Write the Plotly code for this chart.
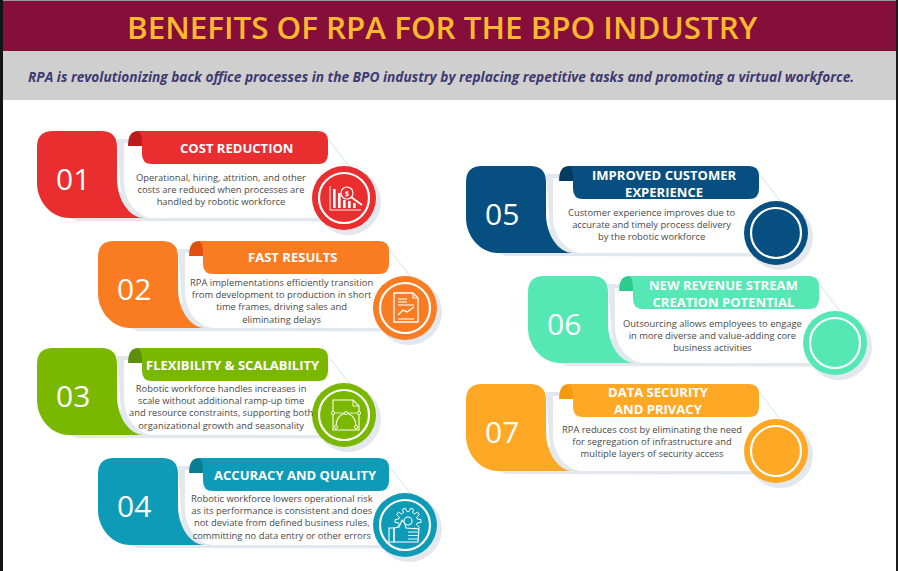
import math
import plotly.graph_objects as go

# card contents
NUMBERS = ["01", "02", "03", "04", "05", "06", "07"]
HEADINGS = [
    ["COST REDUCTION"],
    ["FAST RESULTS"],
    ["FLEXIBILITY & SCALABILITY"],
    ["ACCURACY AND QUALITY"],
    ["IMPROVED CUSTOMER", "EXPERIENCE"],
    ["NEW REVENUE STREAM", "CREATION POTENTIAL"],
    ["DATA SECURITY", "AND PRIVACY"],
]
BODIES = [
    ["Operational, hiring, attrition, and other", "costs are reduced when processes are", "handled by robotic workforce"],
    ["RPA implementations efficiently transition", "from development to production in short", "time frames, driving sales and", "eliminating delays"],
    ["Robotic workforce handles increases in", "scale without additional ramp-up time", "and resource constraints, supporting both", "organizational growth and seasonality"],
    ["Robotic workforce lowers operational risk", "as its performance is consistent and does", "not deviate from defined business rules,", "committing no data entry or other errors"],
    ["Customer experience improves due to", "accurate and timely process delivery", "by the robotic workforce"],
    ["Outsourcing allows employees to engage", "in more diverse and value-adding core", "business activities"],
    ["RPA reduces cost by eliminating the need", "for segregation of infrastructure and", "multiple layers of security access"],
]
TITLE = "BENEFITS OF RPA FOR THE BPO INDUSTRY"
SUBTITLE = "RPA is revolutionizing back office processes in the BPO industry by replacing repetitive tasks and promoting a virtual workforce."

# card colours
MAIN = ["#ea2d2e", "#f97b22", "#7ab800", "#0e9bb8", "#064f80", "#55e8b4", "#ffa826"]
DARK = ["#bb1c1c", "#e04e10", "#5e8f0c", "#087e92", "#043c61", "#2ecb8f", "#f59a10"]
SHADOW = "#e2e8ee"

# where each card sits
CARD_X = [37, 98, 37, 98, 466, 528, 466]
CARD_Y = [131, 241, 348, 458, 166, 276, 384]
EXTRA = [0, 0, 0, 0, 2, 0, 2]  # right column cards are a touch wider
HEAD_X = [199, 194, 196, 197, 198, 195, 192]
HEAD_Y = [17, 16, 17, 17, 17, 17.6, 16.8]
BODY_X = [184, 183, 184, 184, 186, 184, 186]
BODY_Y = [58.4, 59.8, 58.8, 58.8, 58.6, 59.4, 57.8]

shapes = []
annotations = []


def add_path(path, fill=None, line=None, width=0):
    shapes.append(dict(type="path", path=path, xref="x", yref="y", layer="below",
                       fillcolor=fill if fill else "rgba(0,0,0,0)",
                       line=dict(color=line if line else "rgba(0,0,0,0)", width=width)))


def add_circle(cx, cy, r, fill=None, line=None, width=0):
    shapes.append(dict(type="circle", xref="x", yref="y", layer="below",
                       x0=cx - r, x1=cx + r, y0=cy - r, y1=cy + r,
                       fillcolor=fill if fill else "rgba(0,0,0,0)",
                       line=dict(color=line if line else "rgba(0,0,0,0)", width=width)))


def add_text(x, y, text, size, color, weight=400, style="normal"):
    annotations.append(dict(x=x, y=y, text=text, xref="x", yref="y", showarrow=False,
                            xanchor="center", yanchor="middle", align="center",
                            font=dict(family="Open Sans", size=size, color=color,
                                      weight=weight, style=style)))


def shift(x0, y0, cmds):
    # cmds like [("M", 1, 2), ("C", 1, 2, 3, 4, 5, 6), ("Z",)]
    out = []
    for c in cmds:
        nums = c[1:]
        pts = [nums[i] + (x0 if i % 2 == 0 else y0) for i in range(len(nums))]
        out.append(c[0] + " ".join(str(round(p, 2)) for p in pts))
    return " ".join(out)


def draw_card(i):
    x0, y0, e = CARD_X[i], CARD_Y[i], EXTRA[i]
    main, dark = MAIN[i], DARK[i]
    cx, cy = x0 + 307 + e * 1.5, y0 + 67

    # soft shadow, then the white panel on top
    add_path(shift(x0, y0, [("M", 25, 84), ("L", 40, 90), ("L", 295 + e, 90.5), ("L", 300 + e, 60), ("L", 90, 60), ("Z",)]), SHADOW)
    add_path(shift(x0, y0, [("M", 80, 8), ("L", 98, 8), ("L", 98, 90), ("L", 116, 90), ("C", 98, 90, 83, 72, 83, 50), ("Z",)]), SHADOW)
    add_path(shift(x0, y0, [("M", 87, 12), ("L", 291 + e, 12), ("L", 316 + e, 44), ("L", 300 + e, 87),
                            ("L", 116, 87), ("C", 102, 87, 87, 72, 87, 50), ("Z",)]), "white")
    add_path(shift(x0, y0, [("M", 291 + e, 8), ("L", 316 + e, 40)]), None, "#e8edf2", 1.5)

    # number block
    add_path(shift(x0, y0, [("M", 16, 0), ("L", 64, 0), ("Q", 80, 0, 80, 16), ("L", 80, 48),
                            ("C", 80, 68, 92, 87, 107, 87), ("L", 32, 87), ("C", 14, 87, 0, 70, 0, 52),
                            ("L", 0, 16), ("Q", 0, 0, 16, 0), ("Z",)]), main)
    add_text(x0 + 36, y0 + 47, NUMBERS[i], 30, "white")

    # heading ribbon with its fold
    add_path(shift(x0, y0, [("M", 91 + e, 15), ("Q", 91 + e, 0, 101 + e, 0), ("L", 112 + e, 0),
                            ("L", 112 + e, 15), ("Z",)]), dark)
    add_path(shift(x0, y0, [("M", 100 + e, 0), ("L", 281 + e, 0), ("Q", 291 + e, 0, 291 + e, 10),
                            ("L", 291 + e, 23), ("Q", 291 + e, 33, 281 + e, 33), ("L", 115 + e, 33),
                            ("Q", 105 + e, 33, 105 + e, 23), ("L", 105 + e, 14), ("Q", 105 + e, 0, 100 + e, 0), ("Z",)]), main)
    add_text(x0 + HEAD_X[i], y0 + HEAD_Y[i], "<br>".join(HEADINGS[i]), 13.05, "white", 700)
    add_text(x0 + BODY_X[i], y0 + BODY_Y[i], "<br>".join(BODIES[i]), 9.4, "#4a4a4a")

    # icon disc
    add_circle(cx + 4, cy + 4, 33, SHADOW)
    add_circle(cx, cy, 32, main)
    add_circle(cx, cy, 25, None, "white", 2.2)
    draw_icon(i, cx, cy)


def draw_icon(i, cx, cy):
    def stroke(cmds, w=1.1):
        add_path(shift(cx, cy, cmds), None, "white", w)

    if i == 0:
        stroke([("M", -14, -12), ("L", -14, 12), ("L", 17, 12)], 0.9)
        for bx, top in [(-11, -9), (-6, -5), (-1, 2), (4, 3), (9, 5)]:
            add_path(shift(cx, cy, [("M", bx, top), ("L", bx + 2.6, top), ("L", bx + 2.6, 10), ("L", bx, 10), ("Z",)]), "white")
        add_circle(cx + 3, cy - 5, 6, "#ea2d2e", "white", 1.2)
        add_text(cx + 3, cy - 5, "$", 7, "white", 700)
        stroke([("M", 7, -1), ("L", 18, 7)], 1.8)
    elif i == 1:
        stroke([("M", -11, -15), ("L", 8, -15), ("L", 13, -10), ("L", 13, 14), ("L", -11, 14), ("Z",)], 1.3)
        stroke([("M", 8, -15), ("L", 8, -10), ("L", 13, -10)], 1.1)
        for y, xr in [(-9, 2), (-6, 2), (-3, 9), (11, 9)]:
            stroke([("M", -7, y), ("L", xr, y)], 1.1)
        stroke([("M", -7, 7), ("L", -2, 2), ("L", 2, 4), ("L", 9, -1)], 1.4)
    elif i == 2:
        stroke([("M", -11, -15), ("L", 9, -15), ("L", 15, -9), ("L", 15, 15), ("L", -11, 15), ("Z",)], 1.1)
        stroke([("M", 9, -15), ("L", 9, -9), ("L", 15, -9)], 0.9)
        stroke([("M", -11, -2), ("L", 15, -2)], 0.8)
        stroke([("M", -8, 12), ("C", -8, -6, 12, -6, 12, 12)], 1.1)
        for px, py in [(-11, -2), (2, -2), (15, -2), (-8, 12), (12, 12)]:
            add_circle(cx + px, cy + py, 1.6, "#7ab800", "white", 0.9)
    elif i == 3:
        # gear drawn as an outline with teeth around a small hub
        gx, gy = 3, -4
        pts = []
        for t in range(10):
            a = t * math.pi / 5
            for off, r in [(-0.2, 9.5), (-0.12, 13), (0.12, 13), (0.2, 9.5)]:
                pts.append((gx + r * math.cos(a + off), gy + r * math.sin(a + off)))
        cmds = [("M", pts[0][0], pts[0][1])] + [("L", p[0], p[1]) for p in pts[1:]] + [("Z",)]
        stroke(cmds, 1.0)
        add_circle(cx + gx, cy + gy, 4, None, "white", 1.1)
        # thumbs up hand over the gear
        add_path(shift(cx, cy, [("M", -11, 3), ("L", -6, 2), ("L", -3, -5), ("L", 0, -1), ("L", 1, 3), ("L", 14, 4), ("L", 13, 17), ("L", -11, 17), ("Z",)]), "#0e9bb8", "white", 1.1)
        stroke([("M", -16, 3), ("L", -11, 3), ("L", -11, 17), ("L", -16, 17), ("Z",)], 1.1)
        for y in [7, 10.5, 14]:
            stroke([("M", 3, y), ("L", 13, y)], 0.9)


# page furniture
add_path("M0,0 L898,0 L898,1 L0,1 Z", "#9a9a9a")
add_path("M0,1 L898,1 L898,51 L0,51 Z", "#850e3a")
add_path("M0,51 L898,51 L898,100 L0,100 Z", "#cfcfcf")
add_path("M0,0 L3,0 L3,571 L0,571 Z", "#141414")
add_path("M896,0 L898,0 L898,571 L896,571 Z", "#1c1c1c")
add_text(442.5, 26, TITLE, 31.35, "#fdb92e", 600)
add_text(441, 76, SUBTITLE, 13.7, "#3e3a70", 700, "italic")

for i in range(len(NUMBERS)):
    draw_card(i)

fig = go.Figure()
fig.update_layout(
    width=898, height=571,
    margin=dict(l=0, r=0, t=0, b=0),
    paper_bgcolor="white", plot_bgcolor="white",
    xaxis=dict(range=[0, 898], visible=False, fixedrange=True),
    yaxis=dict(range=[571, 0], visible=False, fixedrange=True),
    shapes=shapes, annotations=annotations,
    showlegend=False,
)
fig.write_html("out.html", config={"displayModeBar": False},
               post_script="document.body.style.margin='0';document.body.style.overflow='hidden';")
